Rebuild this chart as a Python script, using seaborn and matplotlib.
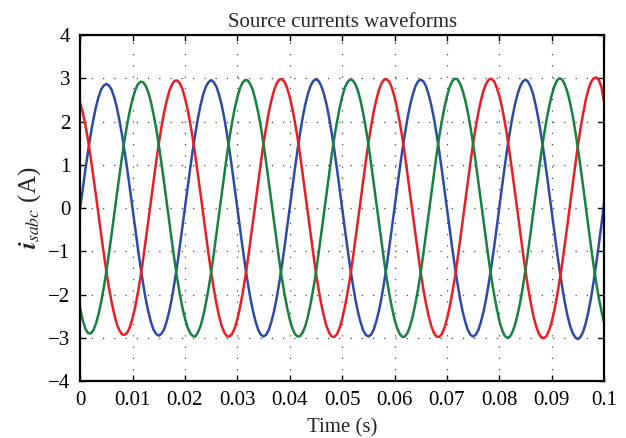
import numpy as np
import pandas as pd
import matplotlib
matplotlib.use("Agg")
import matplotlib.pyplot as plt
import seaborn as sns

# sample times: one reading every 0.5 ms, 0 .. 0.1 s
time_s = np.arange(201) / 2000.0

# phase currents (A); each line is half a 20 ms cycle
i_a = [0.00, 0.45, 0.89, 1.30, 1.69, 2.03, 2.33, 2.56, 2.74, 2.83, 2.87, 2.83, 2.74, 2.56, 2.33, 2.03, 1.69, 1.30, 0.89, 0.45,
       0.00, -0.46, -0.91, -1.34, -1.73, -2.09, -2.39, -2.63, -2.81, -2.91, -2.95, -2.91, -2.81, -2.63, -2.39, -2.09, -1.73, -1.34, -0.91, -0.46,
       0.00, 0.46, 0.91, 1.34, 1.73, 2.09, 2.39, 2.63, 2.81, 2.91, 2.96, 2.91, 2.81, 2.63, 2.39, 2.09, 1.73, 1.34, 0.91, 0.46,
       0.00, -0.46, -0.91, -1.34, -1.73, -2.09, -2.39, -2.63, -2.82, -2.93, -2.97, -2.93, -2.82, -2.63, -2.39, -2.09, -1.73, -1.34, -0.91, -0.46,
       0.00, 0.47, 0.92, 1.35, 1.75, 2.11, 2.41, 2.65, 2.83, 2.94, 2.98, 2.94, 2.83, 2.65, 2.41, 2.11, 1.75, 1.35, 0.92, 0.47,
       0.00, -0.46, -0.91, -1.34, -1.73, -2.09, -2.39, -2.63, -2.82, -2.93, -2.97, -2.93, -2.82, -2.63, -2.39, -2.09, -1.73, -1.34, -0.91, -0.46,
       0.00, 0.46, 0.91, 1.34, 1.73, 2.09, 2.39, 2.63, 2.82, 2.93, 2.97, 2.93, 2.82, 2.63, 2.39, 2.09, 1.73, 1.34, 0.91, 0.46,
       0.00, -0.46, -0.91, -1.34, -1.73, -2.09, -2.39, -2.63, -2.82, -2.93, -2.97, -2.93, -2.82, -2.63, -2.39, -2.09, -1.73, -1.34, -0.91, -0.46,
       0.02, 0.48, 0.93, 1.36, 1.75, 2.10, 2.40, 2.64, 2.82, 2.93, 2.97, 2.92, 2.80, 2.61, 2.35, 2.04, 1.67, 1.27, 0.84, 0.38,
       -0.08, -0.55, -1.00, -1.43, -1.82, -2.18, -2.48, -2.72, -2.89, -2.99, -3.03, -2.98, -2.86, -2.66, -2.40, -2.08, -1.70, -1.28, -0.84, -0.38,
       0.12]
i_b = [2.43, 2.21, 1.92, 1.58, 1.18, 0.75, 0.31, -0.15, -0.60, -1.04, -1.46, -1.84, -2.17, -2.45, -2.68, -2.83, -2.92, -2.93, -2.88, -2.75,
       -2.55, -2.29, -1.97, -1.61, -1.20, -0.76, -0.31, 0.15, 0.61, 1.06, 1.48, 1.86, 2.19, 2.47, 2.70, 2.85, 2.94, 2.95, 2.89, 2.76,
       2.55, 2.29, 1.97, 1.61, 1.20, 0.76, 0.31, -0.15, -0.61, -1.06, -1.48, -1.86, -2.20, -2.49, -2.72, -2.87, -2.96, -2.97, -2.91, -2.78,
       -2.57, -2.30, -1.98, -1.61, -1.20, -0.76, -0.31, 0.15, 0.61, 1.06, 1.49, 1.87, 2.21, 2.49, 2.72, 2.88, 2.97, 2.98, 2.92, 2.78,
       2.57, 2.30, 1.98, 1.62, 1.21, 0.76, 0.31, -0.15, -0.61, -1.06, -1.49, -1.87, -2.21, -2.49, -2.72, -2.88, -2.97, -2.98, -2.92, -2.78,
       -2.57, -2.30, -1.98, -1.62, -1.21, -0.76, -0.31, 0.15, 0.61, 1.06, 1.49, 1.87, 2.21, 2.49, 2.72, 2.88, 2.97, 2.98, 2.92, 2.78,
       2.57, 2.30, 1.98, 1.62, 1.21, 0.76, 0.31, -0.15, -0.61, -1.06, -1.49, -1.87, -2.21, -2.49, -2.72, -2.88, -2.97, -2.98, -2.92, -2.78,
       -2.57, -2.30, -1.98, -1.62, -1.21, -0.76, -0.31, 0.15, 0.61, 1.06, 1.49, 1.87, 2.21, 2.49, 2.72, 2.88, 2.97, 2.99, 2.93, 2.79,
       2.60, 2.34, 2.02, 1.66, 1.25, 0.81, 0.36, -0.10, -0.57, -1.02, -1.46, -1.85, -2.19, -2.49, -2.72, -2.89, -2.99, -3.01, -2.96, -2.83,
       -2.63, -2.37, -2.05, -1.68, -1.28, -0.84, -0.39, 0.08, 0.55, 1.00, 1.44, 1.84, 2.19, 2.50, 2.74, 2.91, 3.00, 3.02, 2.96, 2.80,
       2.45]
i_c = [-2.31, -2.60, -2.79, -2.89, -2.90, -2.83, -2.68, -2.46, -2.18, -1.85, -1.47, -1.05, -0.61, -0.15, 0.31, 0.75, 1.19, 1.59, 1.95, 2.26,
       2.52, 2.72, 2.86, 2.92, 2.91, 2.83, 2.68, 2.46, 2.17, 1.85, 1.47, 1.05, 0.61, 0.15, -0.31, -0.76, -1.20, -1.61, -1.97, -2.29,
       -2.55, -2.76, -2.89, -2.96, -2.97, -2.87, -2.72, -2.49, -2.20, -1.87, -1.49, -1.06, -0.61, -0.15, 0.31, 0.76, 1.21, 1.62, 1.98, 2.30,
       2.56, 2.77, 2.90, 2.96, 2.95, 2.86, 2.71, 2.48, 2.20, 1.87, 1.48, 1.06, 0.61, 0.15, -0.31, -0.76, -1.21, -1.62, -1.98, -2.30,
       -2.57, -2.78, -2.91, -2.97, -2.96, -2.87, -2.72, -2.49, -2.20, -1.87, -1.49, -1.06, -0.61, -0.15, 0.31, 0.76, 1.21, 1.62, 1.98, 2.30,
       2.57, 2.78, 2.91, 2.97, 2.96, 2.87, 2.72, 2.49, 2.20, 1.87, 1.49, 1.06, 0.61, 0.15, -0.31, -0.76, -1.21, -1.62, -1.98, -2.30,
       -2.57, -2.78, -2.91, -2.98, -2.97, -2.88, -2.72, -2.49, -2.20, -1.87, -1.49, -1.06, -0.61, -0.15, 0.31, 0.76, 1.21, 1.62, 1.99, 2.31,
       2.58, 2.79, 2.93, 2.99, 2.98, 2.88, 2.72, 2.49, 2.21, 1.87, 1.49, 1.06, 0.61, 0.15, -0.31, -0.76, -1.21, -1.62, -1.99, -2.31,
       -2.60, -2.81, -2.95, -3.00, -2.98, -2.87, -2.70, -2.46, -2.17, -1.82, -1.43, -1.00, -0.55, -0.08, 0.38, 0.83, 1.27, 1.67, 2.03, 2.34,
       2.61, 2.81, 2.95, 3.00, 2.97, 2.86, 2.68, 2.44, 2.14, 1.78, 1.38, 0.95, 0.50, 0.03, -0.44, -0.89, -1.33, -1.73, -2.08, -2.38,
       -2.66]

phases = ["a", "b", "c"]
colors = {"a": "#2c4aa8", "b": "#ec1c24", "c": "#17813f"}

x_ticks = [0, 0.01, 0.02, 0.03, 0.04, 0.05, 0.06, 0.07, 0.08, 0.09, 0.1]
x_labels = ["0", "0.01", "0.02", "0.03", "0.04", "0.05", "0.06", "0.07", "0.08", "0.09", "0.1"]
y_ticks = [-4, -3, -2, -1, 0, 1, 2, 3, 4]

df = pd.DataFrame({
    "t": np.concatenate([time_s] * 3),
    "i": np.concatenate([i_a, i_b, i_c]),
    "phase": np.repeat(phases, len(time_s)),
})

sns.set_style("ticks")
plt.rcParams["font.family"] = ["Liberation Serif", "DejaVu Serif"]
plt.rcParams["mathtext.fontset"] = "stix"

fig = plt.figure(figsize=(6.26, 4.38), dpi=100)
ax = fig.add_axes([0.128, 0.130, 0.837, 0.790])

sns.lineplot(data=df, x="t", y="i", hue="phase", palette=colors, legend=False,
             linewidth=1.8, ax=ax, sort=False)

ax.set_xlim(0, 0.1)
ax.set_ylim(-4, 4)
ax.set_xticks(x_ticks)
ax.set_xticklabels(x_labels)
ax.set_yticks(y_ticks)
ax.set_yticklabels([str(v).replace("-", "\u2212") for v in y_ticks])
ax.tick_params(direction="in", top=True, right=True, length=4, width=1,
               labelsize=15, colors="black", pad=7)
ax.grid(True, color="#444444", linestyle=(0, (1, 8)), linewidth=0.9)
for s in ax.spines.values():
    s.set_linewidth(1.6)
    s.set_color("black")

ax.set_title("Source currents waveforms", fontsize=15, pad=6)
ax.set_xlabel("Time (s)", fontsize=15, labelpad=6)
ax.set_ylabel(r"$\boldsymbol{i}_{sabc}$ (A)", fontsize=18, labelpad=4)

fig.savefig("out.png", dpi=100)
